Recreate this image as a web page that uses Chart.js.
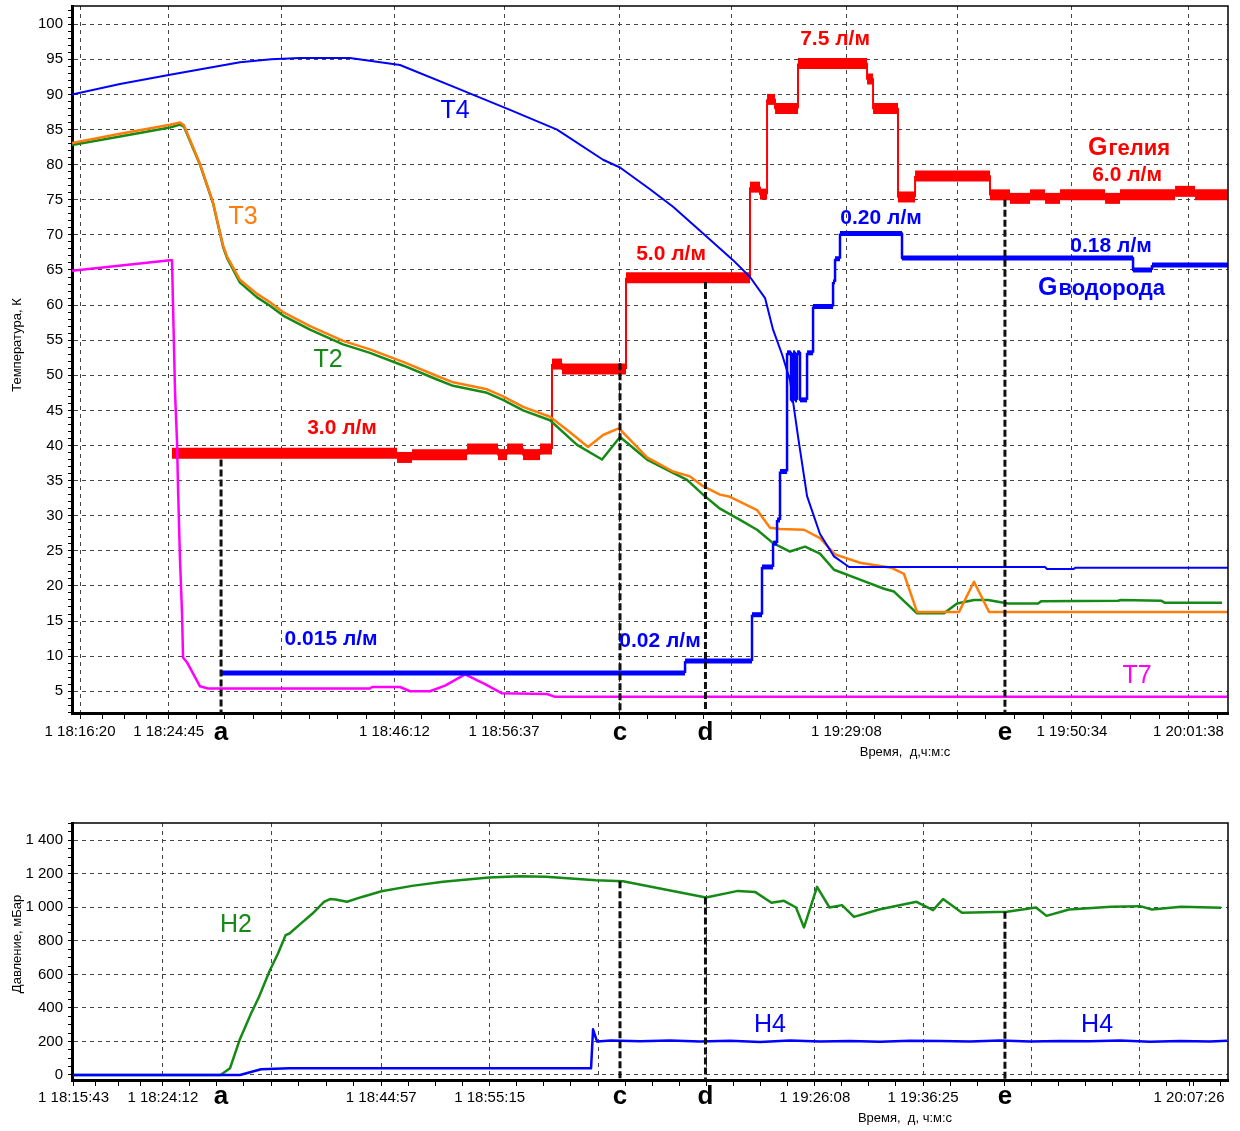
<!DOCTYPE html>
<html>
<head>
<meta charset="utf-8">
<script src="https://cdn.jsdelivr.net/npm/chart.js@4.4.1/dist/chart.umd.min.js"></script>
<style>
  body { margin: 0; background: #fff; }
  .box { position: absolute; left: 0; width: 1240px; }
  #tempBox { top: 0; height: 772px; }
  #pressBox { top: 800px; height: 331px; }
  canvas { display: block; }
</style>
</head>
<body>
<div class="box" id="tempBox"><canvas id="temp-chart" width="1240" height="772"></canvas></div>
<div class="box" id="pressBox"><canvas id="press-chart" width="1240" height="331"></canvas></div>
<script>
const FONT = "'Liberation Sans', Arial, sans-serif";
Chart.defaults.font.family = FONT;

// time is in minutes after 18:00:00
const timeMin = 15.57;
const timeMax = 125.39;

// x ticks, top chart
const tempTickTimes = [16.333, 24.75, 35.45, 46.2, 56.617, 67.55, 78.25, 89.133, 99.65, 110.567, 121.633];
const tempTickLabels = ['1 18:16:20', '1 18:24:45', '', '1 18:46:12', '1 18:56:37', '', '', '1 19:29:08', '', '1 19:50:34', '1 20:01:38'];
const tempTickGrid = [1, 1, 1, 1, 1, 1, 1, 1, 1, 1, 1];

// x ticks, bottom chart
const pressTickTimes = [15.717, 24.2, 34.48, 44.95, 55.25, 65.54, 75.8, 86.133, 96.417, 106.68, 116.94, 121.69];
const pressTickLabels = ['1 18:15:43', '1 18:24:12', '', '1 18:44:57', '1 18:55:15', '', '', '1 19:26:08', '1 19:36:25', '', '', '1 20:07:26'];
const pressTickGrid = [1, 1, 1, 1, 1, 1, 1, 1, 1, 1, 1, 0];

// markers a, c, d, e
const markTime = [29.73, 67.63, 75.75, 104.2];
const markName = ['a', 'c', 'd', 'e'];
const markTopTemp = [38.0, 51.7, 63.3, 75.0];
const markTopPress = [null, 1156, 1059, 973];

// temperatures, K
const t4Time = [15.57, 20.13, 24.88, 31.53, 34.5, 37.23, 41.98, 46.73, 51.96, 57.18, 61.65, 66.02, 67.63, 70.48, 72.67, 75.9, 78.37, 79.98, 81.41, 82.17, 83.02, 83.78, 84.54, 85.4, 86.63, 87.96, 89.39, 108.0, 108.2, 110.7, 110.9, 125.39];
const t4Temp = [90.0, 91.5, 92.8, 94.6, 95.0, 95.2, 95.2, 94.2, 91.0, 87.8, 85.0, 80.7, 79.6, 76.5, 74.0, 69.7, 66.4, 64.0, 61.0, 56.5, 53.0, 49.3, 41.3, 32.8, 27.4, 24.2, 22.7, 22.7, 22.4, 22.4, 22.6, 22.6];

const t3Time = [15.57, 20.13, 24.88, 25.83, 26.21, 27.73, 28.97, 29.92, 30.3, 31.53, 33.15, 34.38, 35.62, 38.18, 41.32, 43.88, 47.02, 50.25, 51.77, 55.0, 56.52, 58.42, 60.98, 62.88, 64.59, 66.02, 67.44, 67.63, 70.2, 72.67, 74.28, 75.52, 77.13, 78.08, 80.65, 81.88, 82.83, 85.11, 86.63, 88.06, 90.43, 92.05, 93.38, 94.61, 95.85, 99.84, 101.26, 102.69, 125.39];
const t3Temp = [83.1, 84.4, 85.7, 86.0, 85.6, 80.1, 74.6, 68.5, 66.9, 63.6, 61.6, 60.4, 59.0, 57.0, 54.9, 53.7, 51.9, 49.9, 49.0, 48.0, 47.0, 45.5, 44.1, 41.9, 39.8, 41.5, 42.4, 42.3, 38.3, 36.3, 35.6, 34.2, 33.0, 32.7, 30.8, 28.3, 28.1, 28.0, 26.8, 24.5, 23.3, 22.9, 22.6, 21.7, 16.3, 16.3, 20.6, 16.3, 16.3];

const t2Time = [15.57, 20.13, 24.88, 25.83, 26.21, 27.73, 28.97, 29.92, 30.3, 31.53, 33.15, 34.38, 35.62, 38.18, 41.32, 43.88, 47.02, 50.25, 51.77, 55.0, 56.52, 58.42, 60.98, 63.55, 65.92, 67.63, 70.2, 72.67, 74.0, 75.52, 77.13, 79.03, 80.65, 82.17, 83.78, 85.21, 86.63, 87.96, 90.43, 92.71, 93.66, 95.85, 98.41, 99.65, 101.26, 102.59, 104.49, 107.34, 107.63, 114.94, 115.23, 119.03, 119.41, 124.82];
const t2Temp = [82.8, 84.0, 85.3, 85.7, 85.4, 80.0, 74.5, 68.3, 66.7, 63.2, 61.1, 59.9, 58.5, 56.5, 54.4, 53.2, 51.4, 49.4, 48.5, 47.5, 46.5, 45.0, 43.6, 40.1, 38.0, 41.2, 38.0, 36.1, 35.1, 33.0, 31.0, 29.4, 28.0, 26.1, 24.9, 25.6, 24.6, 22.3, 20.9, 19.6, 19.2, 16.1, 16.1, 17.5, 18.0, 18.0, 17.5, 17.5, 17.8, 17.9, 18.0, 17.9, 17.6, 17.6];

const t7Time = [15.57, 24.88, 25.07, 25.17, 25.36, 25.55, 25.64, 25.83, 26.02, 26.12, 26.5, 27.73, 28.49, 43.88, 44.07, 46.73, 47.68, 49.58, 51.01, 52.91, 54.81, 56.42, 60.7, 61.46, 125.39];
const t7Temp = [64.9, 66.4, 66.4, 59.8, 47.5, 40.4, 34.1, 23.7, 16.2, 9.8, 9.1, 5.7, 5.4, 5.4, 5.6, 5.6, 5.0, 5.0, 5.8, 7.4, 6.0, 4.7, 4.6, 4.2, 4.2];

// helium flow, plotted on the K axis (step switch times and levels)
const heTime = [25.07, 46.45, 47.87, 53.1, 56.04, 56.9, 58.42, 60.03, 61.17, 62.12, 68.2, 79.98, 80.93, 81.6, 82.36, 84.54, 91.1, 91.67, 94.04, 95.66, 102.78, 104.68, 106.58, 108.01, 109.43, 113.71, 115.13, 120.36, 122.26];
const heLevel = [38.9, 38.3, 38.7, 39.5, 38.7, 39.5, 38.7, 39.5, 51.6, 50.9, 63.9, 76.8, 75.8, 89.3, 88.0, 94.4, 92.2, 88.0, 75.4, 78.4, 75.7, 75.2, 75.7, 75.2, 75.7, 75.2, 75.7, 76.2, 75.7];

// hydrogen flow, plotted on the K axis
const h2fTime = [29.73, 73.81, 80.17, 81.12, 82.17, 82.55, 82.83, 83.5, 83.88, 84.07, 84.26, 84.45, 84.73, 85.4, 85.97, 87.87, 88.06, 88.53, 94.42, 116.37, 118.17];
const h2fLevel = [7.6, 9.3, 15.9, 22.7, 26.1, 29.4, 36.3, 53.2, 46.5, 53.2, 46.5, 53.2, 46.5, 53.2, 59.8, 63.3, 66.6, 70.2, 66.7, 65.0, 65.7];

// pressures, mbar
const h2pTime = [15.67, 29.68, 30.58, 31.49, 32.58, 33.34, 34.38, 35.14, 35.86, 36.23, 37.33, 38.42, 39.51, 40.08, 40.6, 41.7, 43.12, 44.97, 47.87, 50.82, 55.19, 58.08, 60.6, 65.35, 67.92, 71.43, 75.8, 78.84, 80.46, 82.02, 83.21, 84.35, 85.11, 86.35, 87.53, 88.72, 89.86, 92.24, 95.8, 97.37, 98.32, 100.12, 104.4, 107.15, 108.15, 110.29, 114.28, 117.03, 118.17, 120.93, 124.73];
const h2pVal = [0, 0, 40, 208, 367, 467, 626, 725, 834, 844, 904, 963, 1033, 1049, 1047, 1033, 1062, 1096, 1128, 1152, 1178, 1186, 1182, 1162, 1156, 1112, 1059, 1098, 1092, 1027, 1039, 999, 880, 1122, 999, 1013, 943, 987, 1033, 983, 1049, 967, 973, 999, 949, 987, 1003, 1007, 987, 1003, 997];

const h4pTime = [15.67, 31.53, 33.53, 36.23, 64.88, 65.07, 65.45, 66.78, 69.53, 72.38, 75.23, 78.08, 80.93, 83.78, 86.63, 89.48, 92.33, 95.18, 98.03, 100.88, 103.73, 106.58, 109.43, 112.28, 115.13, 117.98, 120.83, 123.68, 125.3];
const h4pVal = [0, 0, 34, 40, 40, 272, 199, 205, 201, 206, 199, 204, 197, 205, 200, 203, 198, 204, 202, 200, 205, 199, 203, 201, 205, 198, 203, 200, 204];

const tempNotes = [
  {text: 'T4', t: 51.96, v: 87.7, color: '#0000ff', font: '25px'},
  {text: 'T3', t: 31.82, v: 72.6, color: '#ff7d0a', font: '25px'},
  {text: 'T2', t: 39.89, v: 52.1, color: '#168a16', font: '25px'},
  {text: 'T7', t: 116.75, v: 7.2, color: '#ff00ff', font: '25px'},
  {text: '3.0 л/м', t: 41.22, v: 42.4, color: '#ff0000', font: 'bold 21px'},
  {text: '5.0 л/м', t: 72.48, v: 67.2, color: '#ff0000', font: 'bold 21px'},
  {text: '7.5 л/м', t: 88.06, v: 97.9, color: '#ff0000', font: 'bold 21px'},
  {text: '6.0 л/м', t: 115.8, v: 78.5, color: '#ff0000', font: 'bold 21px'},
  {text: '0.20 л/м', t: 92.43, v: 72.4, color: '#0000ff', font: 'bold 21px'},
  {text: '0.18 л/м', t: 114.28, v: 68.4, color: '#0000ff', font: 'bold 21px'},
  {text: '0.015 л/м', t: 40.18, v: 12.4, color: '#0000ff', font: 'bold 21px'},
  {text: '0.02 л/м', t: 71.43, v: 12.1, color: '#0000ff', font: 'bold 21px'},
  {parts: [['G', 'bold 25px'], ['гелия', 'bold 22px']], t: 112.09, v: 81.4, color: '#ff0000'},
  {parts: [['G', 'bold 25px'], ['водорода', 'bold 22px']], t: 107.34, v: 61.5, color: '#0000ff'}
];
const pressNotes = [
  {text: 'H2', t: 31.15, v: 893, color: '#168a16', font: '25px'},
  {text: 'H4', t: 81.88, v: 298, color: '#0000ff', font: '25px'},
  {text: 'H4', t: 112.95, v: 298, color: '#0000ff', font: '25px'}
];

function toPoints(xs, ys) {
  return xs.map((x, i) => ({x: x, y: ys[i]}));
}

function stepPoints(xs, ys, end) {
  const pts = [];
  xs.forEach((x, i) => {
    const next = i + 1 < xs.length ? xs[i + 1] : end;
    pts.push({x: x, y: ys[i]}, {x: next, y: ys[i]});
  });
  return pts;
}

function buildTimeTicks(majors, grid) {
  const lines = majors.filter((v, i) => grid[i]);
  const out = majors.slice();
  for (let i = 0; i < lines.length - 1; i++) {
    const step = (lines[i + 1] - lines[i]) / 4;
    for (let k = 1; k < 4; k++) out.push(lines[i] + k * step);
  }
  const lastStep = (lines[lines.length - 1] - lines[lines.length - 2]) / 4;
  for (let v = lines[lines.length - 1] + lastStep; v < timeMax; v += lastStep) out.push(v);
  const firstStep = (lines[1] - lines[0]) / 4;
  for (let v = lines[0] - firstStep; v > timeMin; v -= firstStep) out.push(v);
  return out.sort((a, b) => a - b);
}

function timeAxis(majors, labels, grid, height, pad) {
  const labelOf = new Map(majors.map((v, i) => [v, labels[i]]));
  const gridAt = new Set(majors.filter((v, i) => grid[i]));
  const all = buildTimeTicks(majors, grid);
  return {
    type: 'linear', min: timeMin, max: timeMax,
    afterBuildTicks: s => { s.ticks = all.map(v => ({value: v})); },
    afterFit: s => { s.height = height; s.paddingLeft = 0; s.paddingRight = 0; },
    ticks: {
      autoSkip: false, maxRotation: 0, minRotation: 0, padding: pad, color: '#000',
      font: {size: 15},
      callback: v => labelOf.get(v) || ''
    },
    grid: {
      color: c => (c.tick && gridAt.has(c.tick.value)) ? '#444' : 'rgba(0,0,0,0)',
      lineWidth: 1, tickLength: 6, tickColor: '#000', tickWidth: 1
    },
    border: {color: '#000', width: 3, dash: [4, 4]}
  };
}

function valueAxis(min, max, values, isMajor, fmt) {
  return {
    type: 'linear', min: min, max: max,
    afterBuildTicks: s => { s.ticks = values.map(v => ({value: v})); },
    afterFit: s => { s.width = 72; s.paddingTop = 0; s.paddingBottom = 0; },
    ticks: {
      autoSkip: false, padding: 5, color: '#000', font: {size: 15},
      callback: v => isMajor(v) ? fmt(v) : ''
    },
    grid: {
      color: c => (c.tick && isMajor(c.tick.value)) ? '#444' : 'rgba(0,0,0,0)',
      lineWidth: 1, tickLength: 4, tickColor: '#000', tickWidth: 1
    },
    border: {color: '#000', width: 3, dash: [4, 4]}
  };
}

function markerSets(tops, bottom) {
  const sets = [];
  markTime.forEach((t, i) => {
    if (tops[i] === null) return;
    sets.push({
      data: [{x: t, y: tops[i]}, {x: t, y: bottom}],
      borderColor: '#111', borderWidth: 3, borderDash: [7, 3]
    });
  });
  return sets;
}

function stepSet(pts, color, thick, thin) {
  return {
    data: pts, borderColor: color, borderWidth: thick,
    segment: { borderWidth: c => Math.abs(c.p0.x - c.p1.x) < 0.01 ? thin : thick }
  };
}

function decorPlugin(cfg) {
  return {
    id: 'decor',
    afterDraw(chart) {
      const ctx = chart.ctx;
      const a = chart.chartArea;
      const x = chart.scales.x, y = chart.scales.y;
      ctx.save();
      ctx.strokeStyle = '#000';
      ctx.lineWidth = 1.5;
      ctx.beginPath();
      ctx.moveTo(a.left, a.top);
      ctx.lineTo(a.right, a.top);
      ctx.lineTo(a.right, a.bottom);
      ctx.stroke();

      cfg.notes.forEach(n => {
        ctx.fillStyle = n.color;
        const px = x.getPixelForValue(n.t), py = y.getPixelForValue(n.v);
        if (n.parts) {
          ctx.textAlign = 'left';
          ctx.textBaseline = 'alphabetic';
          let cx = px;
          n.parts.forEach(p => {
            ctx.font = p[1] + ' ' + FONT;
            ctx.fillText(p[0], cx, py);
            cx += ctx.measureText(p[0]).width + 1;
          });
        } else {
          ctx.font = n.font + ' ' + FONT;
          ctx.textAlign = 'center';
          ctx.textBaseline = 'middle';
          ctx.fillText(n.text, px, py);
        }
      });

      ctx.fillStyle = '#000';
      ctx.font = 'bold 26px ' + FONT;
      ctx.textAlign = 'center';
      ctx.textBaseline = 'alphabetic';
      markTime.forEach((t, i) => {
        ctx.fillText(markName[i], x.getPixelForValue(t), cfg.letterY);
      });

      ctx.font = '13px ' + FONT;
      ctx.fillStyle = '#000';
      ctx.textAlign = 'center';
      ctx.textBaseline = 'middle';
      ctx.fillText(cfg.xTitle, cfg.xTitlePos[0], cfg.xTitlePos[1]);
      ctx.translate(cfg.yTitlePos[0], cfg.yTitlePos[1]);
      ctx.rotate(-Math.PI / 2);
      ctx.fillText(cfg.yTitle, 0, 0);
      ctx.restore();
    }
  };
}

const tempMin = 1.9, tempMax = 102.6;
const tempYTicks = [];
for (let v = 2; v <= 102; v++) tempYTicks.push(v);

const pressMin = -30, pressMax = 1503;
const pressYTicks = [];
for (let v = 0; v <= 1500; v += 50) pressYTicks.push(v);

const lineDefaults = {pointRadius: 0, tension: 0, fill: false, borderJoinStyle: 'round'};

const tempChart = new Chart(document.getElementById('temp-chart'), {
  type: 'line',
  data: {
    datasets: [
      ...markerSets(markTopTemp, tempMin),
      stepSet(stepPoints(h2fTime, h2fLevel, timeMax), '#0000ff', 5, 2.5),
      {data: toPoints(t4Time, t4Temp), borderColor: '#0000ff', borderWidth: 2},
      {data: toPoints(t3Time, t3Temp), borderColor: '#ff7d0a', borderWidth: 2.5},
      {data: toPoints(t2Time, t2Temp), borderColor: '#168a16', borderWidth: 2.5},
      {data: toPoints(t7Time, t7Temp), borderColor: '#ff00ff', borderWidth: 2.5},
      stepSet(stepPoints(heTime, heLevel, timeMax), '#ff0000', 11, 2)
    ].map(d => Object.assign({}, lineDefaults, d))
  },
  options: {
    responsive: false, animation: false, events: [],
    layout: {padding: {top: 6, right: 12, left: 0, bottom: 0}},
    plugins: {legend: {display: false}, tooltip: {enabled: false}},
    scales: {
      x: timeAxis(tempTickTimes, tempTickLabels, tempTickGrid, 59, 4),
      y: valueAxis(tempMin, tempMax, tempYTicks, v => v % 5 === 0 && v >= 5 && v <= 100, v => String(v))
    }
  },
  plugins: [decorPlugin({
    notes: tempNotes, letterY: 740,
    xTitle: 'Время,  д,ч:м:с', xTitlePos: [905, 752],
    yTitle: 'Температура, К', yTitlePos: [17, 345]
  })]
});

function fmtPress(v) {
  if (v >= 1000) return Math.floor(v / 1000) + ' ' + String(v % 1000).padStart(3, '0');
  return String(v);
}

const pressChart = new Chart(document.getElementById('press-chart'), {
  type: 'line',
  data: {
    datasets: [
      ...markerSets(markTopPress, pressMin),
      {data: toPoints(h4pTime, h4pVal), borderColor: '#0000ff', borderWidth: 2.5},
      {data: toPoints(h2pTime, h2pVal), borderColor: '#168a16', borderWidth: 2.5}
    ].map(d => Object.assign({}, lineDefaults, d))
  },
  options: {
    responsive: false, animation: false, events: [],
    layout: {padding: {top: 23, right: 12, left: 0, bottom: 0}},
    plugins: {legend: {display: false}, tooltip: {enabled: false}},
    scales: {
      x: timeAxis(pressTickTimes, pressTickLabels, pressTickGrid, 51, 3),
      y: valueAxis(pressMin, pressMax, pressYTicks, v => v % 200 === 0 && v <= 1400, fmtPress)
    }
  },
  plugins: [decorPlugin({
    notes: pressNotes, letterY: 304,
    xTitle: 'Время,  д, ч:м:с', xTitlePos: [905, 318],
    yTitle: 'Давление, мБар', yTitlePos: [17, 144]
  })]
});
</script>
</body>
</html>
